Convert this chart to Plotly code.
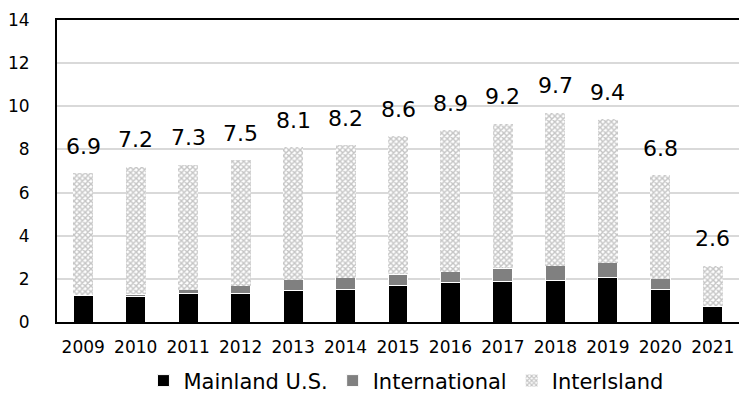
import plotly.graph_objects as go

years = [2009, 2010, 2011, 2012, 2013, 2014, 2015, 2016, 2017, 2018, 2019, 2020, 2021]
totals = [6.9, 7.2, 7.3, 7.5, 8.1, 8.2, 8.6, 8.9, 9.2, 9.7, 9.4, 6.8, 2.6]
mainland = [1.21, 1.19, 1.33, 1.30, 1.47, 1.52, 1.70, 1.84, 1.89, 1.93, 2.07, 1.52, 0.71]
international = [0.05, 0.10, 0.17, 0.38, 0.50, 0.53, 0.51, 0.49, 0.60, 0.68, 0.68, 0.48, 0.02]
interisland = [round(t - m - i, 2) for t, m, i in zip(totals, mainland, international)]
total_labels = [f"{t:.1f}" for t in totals]

FONT = "DejaVu Sans"

fig = go.Figure()
fig.add_trace(go.Bar(x=years, y=mainland, name="Mainland U.S.",
                     marker=dict(color="#000000", line=dict(color="white", width=1))))
fig.add_trace(go.Bar(x=years, y=international, name="International",
                     marker=dict(color="#808080", line=dict(color="white", width=1))))
fig.add_trace(go.Bar(x=years, y=interisland, name="InterIsland",
                     marker=dict(color="white", line=dict(color="white", width=0),
                                 pattern=dict(shape="x", fgcolor="#8c8c8c", bgcolor="#ffffff",
                                              size=4, solidity=0.6))))

for yr, t, lab in zip(years, totals, total_labels):
    fig.add_annotation(x=yr, y=t, xref="x", yref="y", text=lab, showarrow=False,
                       yanchor="middle", yshift=27,
                       font=dict(family=FONT, size=22, color="#000000"))

fig.update_layout(
    width=739, height=396,
    barmode="stack", bargap=0.62,
    plot_bgcolor="white", paper_bgcolor="white",
    margin=dict(l=57, r=0, t=20, b=74, autoexpand=False),
    font=dict(family=FONT, color="#000000"),
    showlegend=True,
    legend=dict(orientation="h", xref="container", x=0.55, xanchor="center",
                yref="container", y=0.038, yanchor="middle",
                font=dict(family=FONT, size=21), traceorder="normal"),
    xaxis=dict(type="linear", range=[2008.5, 2021.5], tickmode="array", tickvals=years,
               ticktext=[str(y) for y in years],
               showline=True, linecolor="#000000", linewidth=2, mirror=True,
               ticks="outside", ticklen=9, tickcolor="rgba(0,0,0,0)",
               tickfont=dict(family=FONT, size=17), showgrid=False, zeroline=False),
    yaxis=dict(range=[0, 14], dtick=2, showline=True, linecolor="#000000", linewidth=2,
               showgrid=True, gridcolor="#d9d9d9", gridwidth=1.5, zeroline=False,
               ticks="outside", ticklen=22, tickcolor="rgba(0,0,0,0)",
               tickfont=dict(family=FONT, size=17)),
)

fig.write_html("out.html")
